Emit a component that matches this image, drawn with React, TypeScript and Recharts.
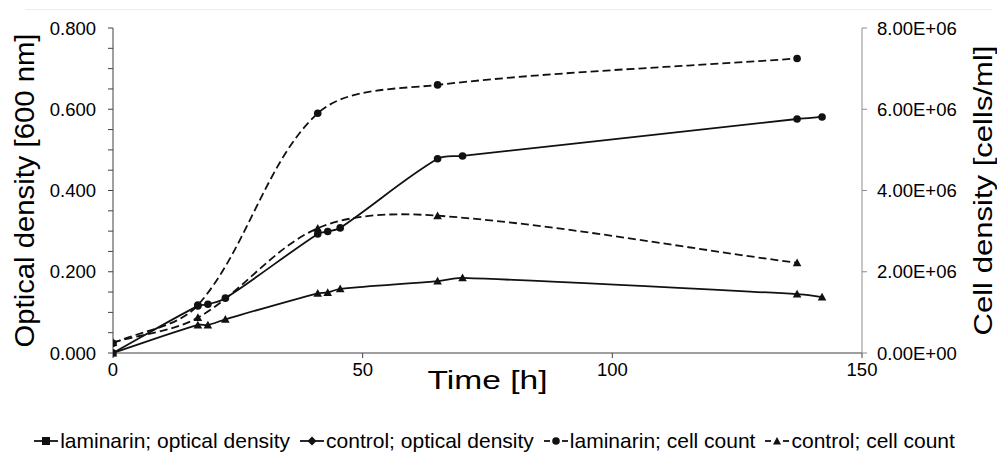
import { LineChart, Line, XAxis, YAxis } from "recharts"

// sampling times [h]
const odTimes = [0, 17, 19, 22.5, 41, 43, 45.5, 65, 70, 137, 142]
const cellTimes = [0, 17, 41, 65, 137]

// optical density at 600 nm
const laminarinOD = [0, 0.116, 0.12, 0.135, 0.293, 0.299, 0.308, 0.478, 0.485, 0.576, 0.581]
const controlOD = [0, 0.069, 0.069, 0.083, 0.147, 0.149, 0.158, 0.177, 0.185, 0.145, 0.138]

// cell counts [cells/ml]
const laminarinCells = [240000, 1180000, 5900000, 6600000, 7250000]
const controlCells = [260000, 870000, 3070000, 3380000, 2220000]

const timeTicks = [0, 50, 100, 150]
const odTicks = [0, 0.05, 0.1, 0.15, 0.2, 0.25, 0.3, 0.35, 0.4, 0.45, 0.5, 0.55, 0.6, 0.65, 0.7, 0.75, 0.8]
const cellTicks = [0, 2000000, 4000000, 6000000, 8000000]

const legendNames = [
    "laminarin; optical density",
    "control; optical density",
    "laminarin; cell count",
    "control; cell count",
]

const odData = odTimes.map((t, i) => ({ t, lam: laminarinOD[i], ctrl: controlOD[i] }))
const cellData = cellTimes.map((t, i) => ({ t, lam: laminarinCells[i], ctrl: controlCells[i] }))

const FONT = '"Liberation Sans", Arial, sans-serif'
const INK = "#111"

// smooth line similar to a spreadsheet "smoothed line" (catmull-rom style bezier)
function smoothCurve(context: any) {
    let pts: number[][] = []
    const dist = (a: number[], b: number[]) => Math.hypot(b[0] - a[0], b[1] - a[1])
    return {
        areaStart() {},
        areaEnd() {},
        lineStart() {
            pts = []
        },
        point(x: number, y: number) {
            pts.push([+x, +y])
        },
        lineEnd() {
            if (!pts.length) return
            context.moveTo(pts[0][0], pts[0][1])
            for (let i = 0; i < pts.length - 1; i++) {
                const p0 = pts[Math.max(0, i - 1)]
                const p1 = pts[i]
                const p2 = pts[i + 1]
                const p3 = pts[Math.min(pts.length - 1, i + 2)]
                const d01 = dist(p0, p1)
                const d12 = dist(p1, p2)
                const d23 = dist(p2, p3)
                const a = d01 + d12 > 0 ? d12 / (d01 + d12) / 3 : 0
                const b = d12 + d23 > 0 ? d12 / (d12 + d23) / 3 : 0
                context.bezierCurveTo(
                    p1[0] + (p2[0] - p0[0]) * a,
                    p1[1] + (p2[1] - p0[1]) * a,
                    p2[0] - (p3[0] - p1[0]) * b,
                    p2[1] - (p3[1] - p1[1]) * b,
                    p2[0],
                    p2[1]
                )
            }
        },
    }
}

const CircleDot = (p: any) => <circle key={`c${p.index}`} cx={p.cx} cy={p.cy} r={3.8} fill={INK} />

const TriDot = (p: any) => {
    const s = 4.3
    return (
        <path
            key={`t${p.index}`}
            d={`M${p.cx},${p.cy - s} L${p.cx + s},${p.cy + s * 0.8} L${p.cx - s},${p.cy + s * 0.8}Z`}
            fill={INK}
        />
    )
}

const fmtSci = (v: number) => {
    if (v === 0) return "0.00E+00"
    const e = Math.floor(Math.log10(v))
    return (v / Math.pow(10, e)).toFixed(2) + "E+" + String(e).padStart(2, "0")
}

const LeftTick = (p: any) => {
    const v = p.payload.value
    if (Math.abs(v * 5 - Math.round(v * 5)) > 1e-6) return <g />
    return (
        <text x={p.x} y={p.y} textAnchor="end" dominantBaseline="central" fontSize={18.5} fill="#000" fontFamily={FONT}>
            {v.toFixed(3)}
        </text>
    )
}

const RightTick = (p: any) => (
    <text x={p.x} y={p.y} textAnchor="start" dominantBaseline="central" fontSize={18.5} fill="#000" fontFamily={FONT}>
        {fmtSci(p.payload.value)}
    </text>
)

const BottomTick = (p: any) => (
    <text x={p.x} y={p.y} textAnchor="middle" dy="0.8em" fontSize={18.5} fill="#000" fontFamily={FONT}>
        {p.payload.value}
    </text>
)

const VTitle = ({ viewBox, value, dx, size, span }: any) => {
    const x = viewBox.x + dx
    const y = viewBox.y + viewBox.height / 2
    return (
        <text
            x={x}
            y={y}
            transform={`rotate(-90 ${x} ${y})`}
            textAnchor="middle"
            dominantBaseline="central"
            fontSize={size}
            textLength={span}
            lengthAdjust="spacingAndGlyphs"
            fill="#000"
            fontFamily={FONT}
        >
            {value}
        </text>
    )
}

const XTitle = ({ viewBox }: any) => (
    <text
        x={viewBox.x + viewBox.width / 2}
        y={viewBox.y + 27}
        textAnchor="middle"
        dominantBaseline="central"
        fontSize={25}
        textLength={120}
        lengthAdjust="spacingAndGlyphs"
        fill="#000"
        fontFamily={FONT}
    >
        Time [h]
    </text>
)

function LegendIcon({ dashed, shape }: { dashed: boolean; shape: string }) {
    return (
        <svg width={24} height={14} style={{ marginRight: 2 }}>
            {dashed ? (
                <>
                    <line x1={0} y1={7} x2={6} y2={7} stroke={INK} strokeWidth={1.8} />
                    <line x1={18} y1={7} x2={24} y2={7} stroke={INK} strokeWidth={1.8} />
                </>
            ) : (
                <line x1={0} y1={7} x2={24} y2={7} stroke={INK} strokeWidth={1.8} />
            )}
            {shape === "square" && <rect x={8} y={3} width={8} height={8} fill={INK} />}
            {shape === "diamond" && <path d="M12,2.5 L16.5,7 L12,11.5 L7.5,7Z" fill={INK} />}
            {shape === "circle" && <circle cx={12} cy={7} r={3.8} fill={INK} />}
            {shape === "triangle" && <path d="M12,3 L16,10.5 L8,10.5Z" fill={INK} />}
        </svg>
    )
}

const legendShapes = ["square", "diamond", "circle", "triangle"]

export default function App() {
    return (
        <div style={{ position: "absolute", left: 0, top: 0, width: 997, height: 453, background: "#fff", fontFamily: FONT }}>
            <div style={{ position: "absolute", left: 25, top: 9, width: 967, height: 1, background: "#ececec" }} />
            <LineChart width={997} height={420} margin={{ top: 28, right: 0, bottom: 7, left: 0 }}>
                <XAxis
                    xAxisId="t"
                    type="number"
                    dataKey="t"
                    domain={[0, 150]}
                    ticks={timeTicks}
                    height={60}
                    tick={<BottomTick />}
                    tickSize={5}
                    tickMargin={3}
                    stroke="#404040"
                    label={<XTitle />}
                    allowDataOverflow
                />
                <YAxis
                    yAxisId="od"
                    orientation="left"
                    domain={[0, 0.8]}
                    ticks={odTicks}
                    width={113}
                    tick={<LeftTick />}
                    tickSize={5}
                    tickMargin={12}
                    stroke="#404040"
                    interval={0}
                    label={<VTitle value="Optical density [600 nm]" dx={25} size={27} span={314} />}
                />
                <YAxis
                    yAxisId="cells"
                    orientation="right"
                    domain={[0, 8000000]}
                    ticks={cellTicks}
                    width={135}
                    tick={<RightTick />}
                    tickSize={5}
                    tickMargin={10}
                    stroke="#8c8c8c"
                    interval={0}
                    label={<VTitle value="Cell density [cells/ml]" dx={121} size={25} span={290} />}
                />
                <Line
                    data={cellData}
                    xAxisId="t"
                    yAxisId="cells"
                    dataKey="lam"
                    type={smoothCurve as any}
                    stroke={INK}
                    strokeWidth={1.8}
                    strokeDasharray="8 4"
                    dot={CircleDot}
                    isAnimationActive={false}
                />
                <Line
                    data={cellData}
                    xAxisId="t"
                    yAxisId="cells"
                    dataKey="ctrl"
                    type={smoothCurve as any}
                    stroke={INK}
                    strokeWidth={1.8}
                    strokeDasharray="8 4"
                    dot={TriDot}
                    isAnimationActive={false}
                />
                <Line
                    data={odData}
                    xAxisId="t"
                    yAxisId="od"
                    dataKey="lam"
                    type={smoothCurve as any}
                    stroke={INK}
                    strokeWidth={1.8}
                    dot={CircleDot}
                    isAnimationActive={false}
                />
                <Line
                    data={odData}
                    xAxisId="t"
                    yAxisId="od"
                    dataKey="ctrl"
                    type={smoothCurve as any}
                    stroke={INK}
                    strokeWidth={1.8}
                    dot={TriDot}
                    isAnimationActive={false}
                />
            </LineChart>
            <div
                style={{
                    position: "absolute",
                    left: -4,
                    top: 429,
                    width: 997,
                    display: "flex",
                    justifyContent: "center",
                    gap: 10,
                    fontSize: 21,
                    lineHeight: "24px",
                    color: "#000",
                }}
            >
                {legendNames.map((name, i) => (
                    <div key={name} style={{ display: "flex", alignItems: "center" }}>
                        <LegendIcon dashed={i >= 2} shape={legendShapes[i]} />
                        <span>{name}</span>
                    </div>
                ))}
            </div>
        </div>
    )
}
